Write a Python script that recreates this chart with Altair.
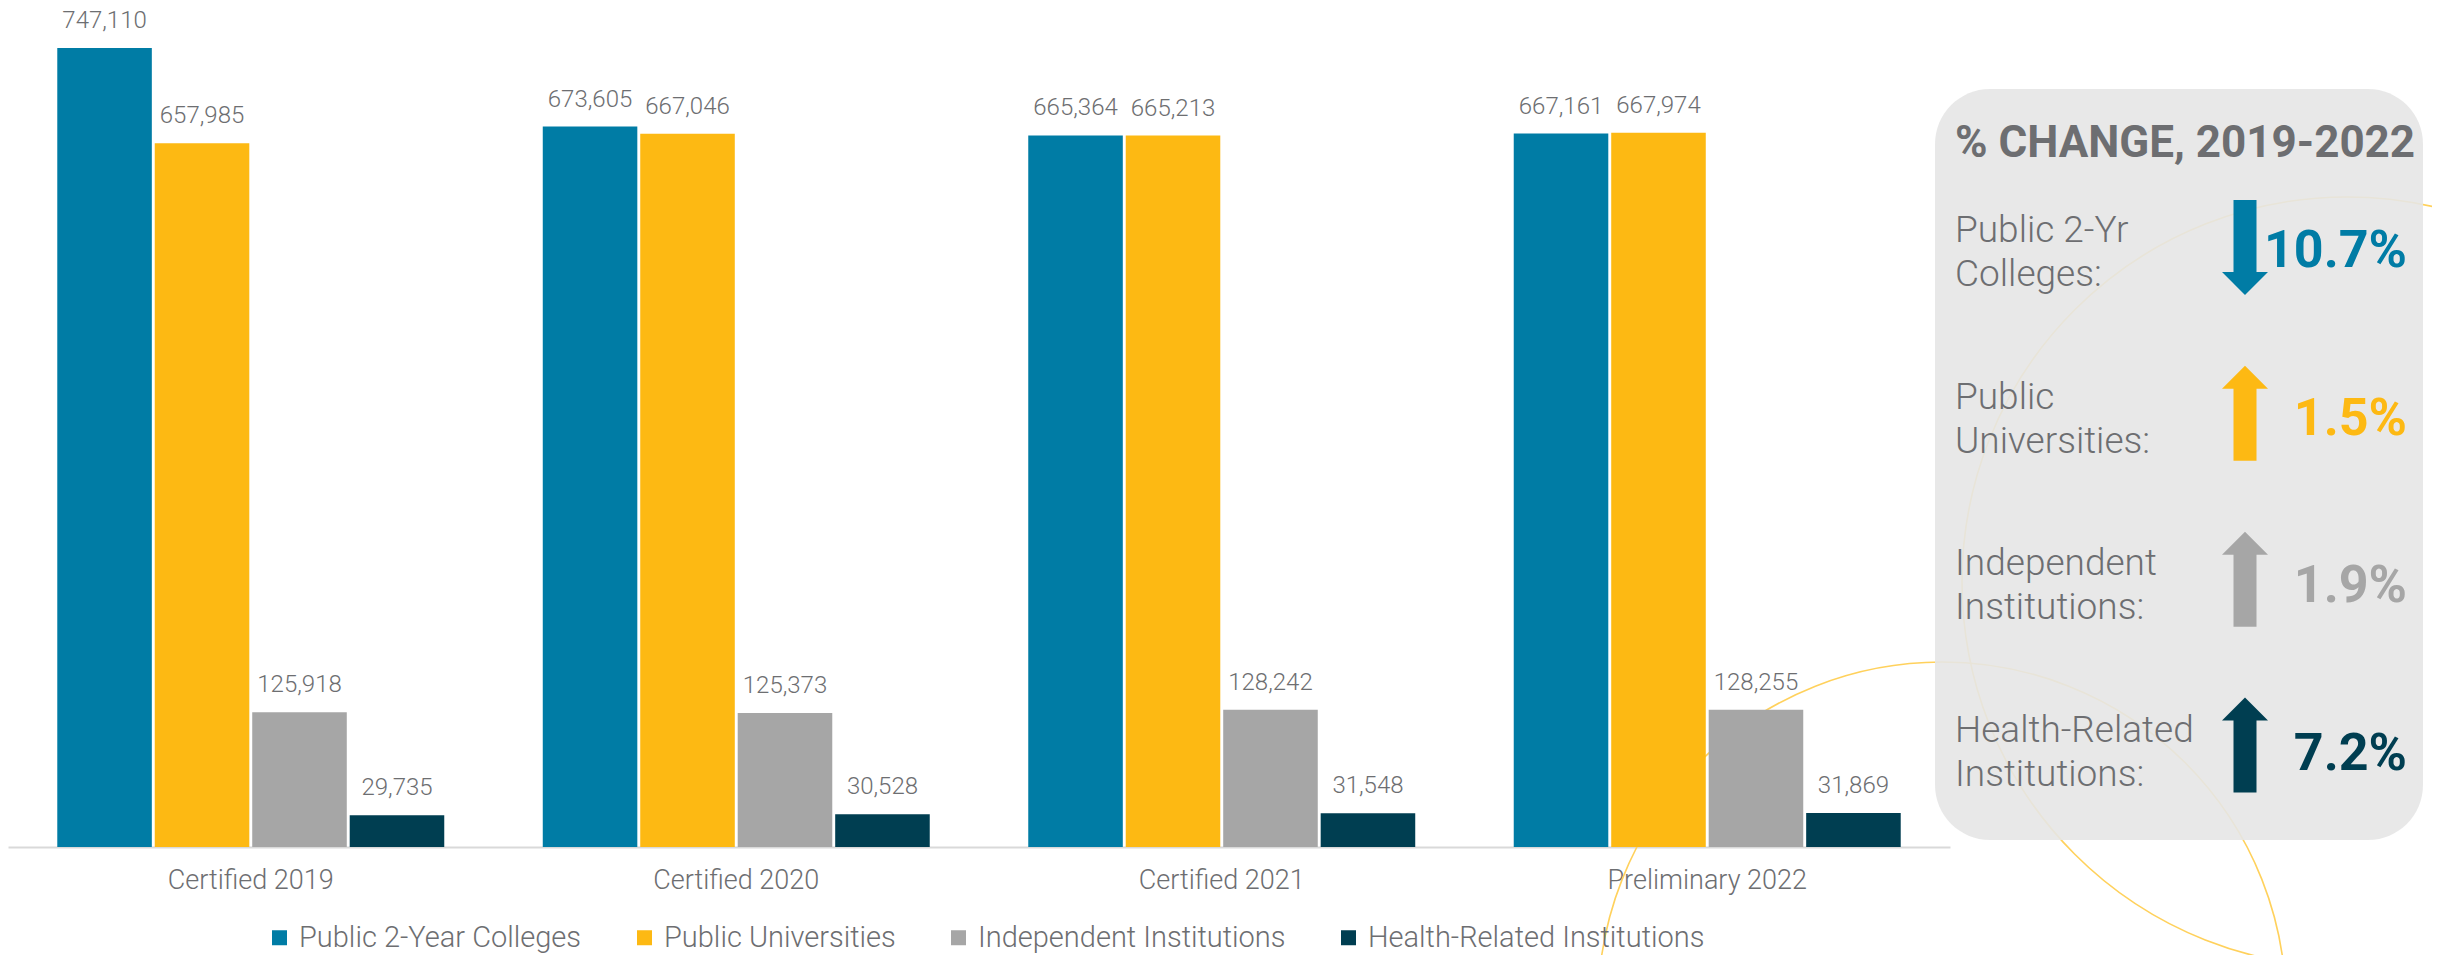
import altair as alt
import pandas as pd

# ---------------- data ----------------
periods = ["Certified 2019", "Certified 2020", "Certified 2021", "Preliminary 2022"]
groups = ["Public 2-Year Colleges", "Public Universities",
          "Independent Institutions", "Health-Related Institutions"]
public_2yr = [747110, 673605, 665364, 667161]
public_univ = [657985, 667046, 665213, 667974]
independent = [125918, 125373, 128242, 128255]
health_related = [29735, 30528, 31548, 31869]

panel_title = "% CHANGE, 2019-2022"
panel_labels = ["Public 2-Yr\nColleges:", "Public\nUniversities:",
                "Independent\nInstitutions:", "Health-Related\nInstitutions:"]
panel_pct = ["10.7%", "1.5%", "1.9%", "7.2%"]
panel_dir = ["down", "up", "up", "up"]

# ---------------- styles ----------------
COLORS = ["#007CA5", "#FDB913", "#A6A6A6", "#003E51"]
TXT = "#6D6E71"
FONT = "Roboto"
YMAX = 784513

series = [public_2yr, public_univ, independent, health_related]
rows = []
for g, vals in zip(groups, series):
    for p, v in zip(periods, vals):
        rows.append({"period": p, "group": g, "value": v})
df = pd.DataFrame(rows)

panel_df = pd.DataFrame({"group": groups, "label": panel_labels,
                         "pct": panel_pct, "dir": panel_dir})
one = pd.DataFrame({"k": [0]})

color_scale = alt.Scale(domain=groups, range=COLORS)
x_scale = alt.Scale(paddingInner=0.2029, paddingOuter=0.1015)
xoff = alt.XOffset("group:N", sort=groups,
                   scale=alt.Scale(domain=groups, paddingInner=0.03, paddingOuter=0))
y_bar = alt.Y("value:Q", scale=alt.Scale(domain=[0, YMAX], nice=False, zero=True), axis=None)

# decorative circles (behind everything)
circle1 = alt.Chart(one).mark_point(shape="circle", filled=False, stroke="#FFD15C",
                                    strokeWidth=1.6, opacity=1).encode(
    x=alt.value(2339), y=alt.value(574), size=alt.value(770 ** 2))
circle2 = alt.Chart(one).mark_point(shape="circle", filled=False, stroke="#FFD15C",
                                    strokeWidth=1.6, opacity=1).encode(
    x=alt.value(1934), y=alt.value(998), size=alt.value(688 ** 2))

bars = alt.Chart(df).mark_bar().encode(
    x=alt.X("period:N", sort=periods, scale=x_scale, title=None),
    xOffset=xoff,
    y=y_bar,
    color=alt.Color("group:N", scale=color_scale, sort=groups, legend=alt.Legend(
        title=None, orient="none", legendX=257, legendY=915, direction="horizontal",
        symbolType="square", symbolSize=225, symbolStrokeWidth=0, symbolOpacity=1,
        labelFont=FONT, labelFontSize=29, labelFontWeight=300, labelColor=TXT,
        labelOffset=5, columnPadding=48, padding=0, labelLimit=0)),
)

value_labels = alt.Chart(df).mark_text(
    baseline="alphabetic", dy=-20, font=FONT, fontSize=24, fontWeight=300, color=TXT
).encode(
    x=alt.X("period:N", sort=periods, scale=x_scale, title=None),
    xOffset=xoff,
    y=y_bar,
    text=alt.Text("value:Q", format=","),
)

panel_rect = alt.Chart(one).mark_rect(color="#E5E5E5", opacity=0.9, cornerRadius=55).encode(
    x=alt.value(1927), x2=alt.value(2415), y=alt.value(81), y2=alt.value(832))

fill_scale = alt.Scale(domain=groups, range=COLORS)
DOWN = "M-0.242,-1L0.242,-1L0.242,0.516L0.484,0.516L0,1L-0.484,0.516L-0.242,0.516Z"
UP = "M-0.242,1L0.242,1L0.242,-0.516L0.484,-0.516L0,-1L-0.484,-0.516L-0.242,-0.516Z"

arrows = alt.Chart(panel_df).mark_point(filled=True, opacity=1, strokeWidth=0).encode(
    x=alt.value(2237),
    y=alt.Y("group:N", sort=groups, axis=None,
            scale=alt.Scale(type="point", domain=groups, range=[239.5, 737], padding=0)),
    shape=alt.Shape("dir:N", scale=alt.Scale(domain=["down", "up"], range=[DOWN, UP]), legend=None),
    fill=alt.Fill("group:N", scale=fill_scale, legend=None),
    size=alt.value(9025),
)

row_labels = alt.Chart(panel_df).mark_text(
    align="left", baseline="alphabetic", lineBreak="\n", lineHeight=44,
    font=FONT, fontSize=37, fontWeight=300, color=TXT
).encode(
    x=alt.value(1947),
    y=alt.Y("group:N", sort=groups, axis=None,
            scale=alt.Scale(type="point", domain=groups, range=[234, 734], padding=0)),
    text="label:N",
)

pct_labels = alt.Chart(panel_df).mark_text(
    align="right", baseline="alphabetic", font=FONT, fontSize=52, fontWeight="bold"
).encode(
    x=alt.value(2399),
    y=alt.Y("group:N", sort=groups, axis=None,
            scale=alt.Scale(type="point", domain=groups, range=[259, 762], padding=0)),
    text="pct:N",
    fill=alt.Fill("group:N", scale=fill_scale, legend=None),
)

title = alt.Chart(pd.DataFrame({"t": [panel_title]})).mark_text(
    align="left", baseline="alphabetic", font=FONT, fontSize=44, fontWeight="bold", color=TXT
).encode(x=alt.value(1947), y=alt.value(149), text="t:N")

chart = alt.layer(
    circle1, circle2, bars, value_labels, panel_rect, arrows, row_labels, pct_labels, title
).resolve_scale(y="independent").properties(
    width=1942, height=839,
    autosize=alt.AutoSizeParams(type="none"),
    padding={"left": 0, "top": 0, "right": 482, "bottom": 108},
    background="white",
).configure_view(strokeWidth=0).configure_axisX(
    labelFont=FONT, labelFontSize=27, labelFontWeight=300, labelColor=TXT,
    labelPadding=20, labelLimit=0, ticks=False, tickSize=0, domainColor="#D9D9D9",
    domainWidth=2, labelAngle=0, grid=False,
)

chart.save("out.html", embed_options={"renderer": "svg", "actions": False})
